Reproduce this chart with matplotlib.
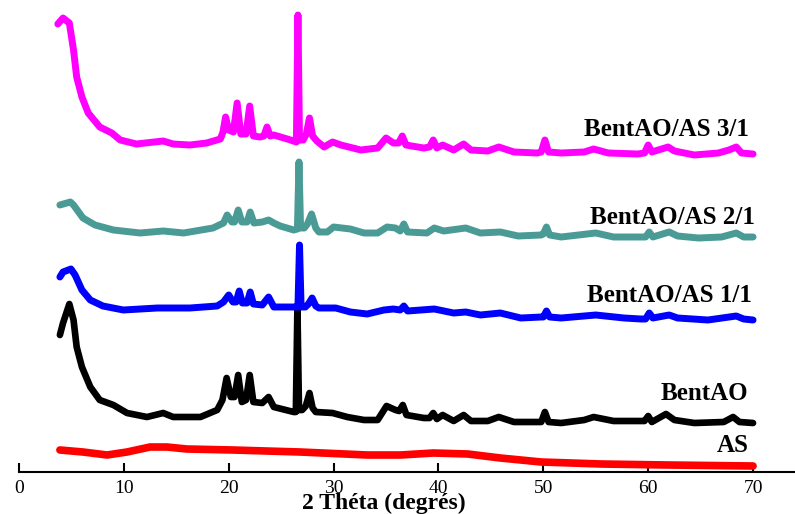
import numpy as np
import matplotlib
matplotlib.use("Agg")
import matplotlib.pyplot as plt

# XRD patterns (2 theta in degrees, intensity in arbitrary units, offsets included)
tt_31 = [3.7, 4.2, 4.8, 5.2, 5.5, 6.0, 6.6, 7.7, 8.85, 9.65, 11.2, 13.75, 14.7, 16.3, 17.9,
         19.2, 19.45, 19.7, 20.0, 20.45, 20.8, 21.15, 21.65, 22.0, 22.35, 23.0, 23.35, 23.65,
         23.95, 24.3, 25.9, 26.45, 26.6, 26.75, 27.1, 27.4, 27.7, 28.0, 28.4, 29.1, 29.9, 30.7,
         32.6, 34.2, 35.0, 35.7, 36.2, 36.55, 36.9, 38.6, 39.15, 39.5, 39.85, 40.4, 41.45,
         42.4, 43.1, 44.7, 45.75, 47.2, 49.4, 49.8, 50.15, 50.5, 51.7, 53.9, 54.8, 56.2, 59.0,
         59.65, 60.0, 60.35, 61.9, 62.5, 64.4, 66.7, 67.7, 68.4, 68.9, 70.0]
i_31 = [448, 454, 449, 422, 395, 375, 359, 345, 339, 332, 328, 331, 328, 327, 329,
        333, 340, 355, 342, 340, 369, 338, 338, 366, 336, 335, 336, 345,
        336, 337, 332, 330, 457, 332, 332, 338, 354, 336, 331, 325, 330, 327,
        322, 324, 334, 329, 329, 336, 327, 324, 325, 332, 324, 327, 322,
        328, 322, 321, 325, 320, 319, 320, 332, 320, 319, 320, 323, 319, 318,
        319, 327, 320, 325, 321, 317, 319, 322, 325, 319, 318]

tt_21 = [3.9, 4.9, 5.2, 6.1, 7.25, 9.0, 11.55, 13.75, 15.7, 18.5, 19.5, 19.85, 20.3, 20.55,
         20.9, 21.25, 21.75, 22.05, 22.4, 23.2, 23.8, 24.3, 24.9, 26.2, 26.55, 26.7, 26.85,
         27.2, 27.5, 27.9, 28.3, 28.6, 29.4, 30.0, 31.6, 32.9, 34.2, 35.1, 35.9, 36.35, 36.7,
         37.05, 38.9, 39.6, 40.5, 42.6, 44.0, 45.9, 47.6, 49.8, 50.0, 50.3, 50.6, 51.7, 55.0,
         56.7, 59.3, 59.75, 60.1, 60.45, 62.0, 62.8, 64.8, 67.0, 68.4, 69.1, 70.0]
i_21 = [267, 270, 267, 254, 247, 242, 239, 241, 239, 244, 249, 257, 250, 250,
        262, 250, 250, 260, 249, 250, 252, 249, 246, 242, 243, 310, 244,
        244, 248, 258, 244, 240, 240, 245, 243, 239, 239, 245, 244, 241, 248,
        240, 239, 244, 241, 244, 239, 240, 236, 237, 238, 245, 237, 235, 239,
        235, 235, 235, 240, 235, 240, 236, 234, 235, 239, 235, 235]

tt_11 = [3.9, 4.2, 4.95, 5.35, 6.0, 6.8, 8.0, 9.95, 13.2, 16.3, 18.9, 19.5, 20.0, 20.4,
         20.7, 21.0, 21.3, 21.75, 22.05, 22.35, 23.2, 23.8, 24.3, 26.2, 26.6, 26.75, 26.9,
         27.3, 27.6, 27.95, 28.3, 28.6, 30.2, 31.6, 33.2, 34.8, 35.7, 36.35, 36.7, 37.05,
         39.6, 41.45, 42.6, 44.0, 45.9, 47.85, 49.8, 50.0, 50.3, 50.6, 51.7, 55.0, 57.7,
         59.3, 59.75, 60.1, 60.45, 62.0, 62.8, 65.7, 68.4, 69.1, 70.0]
i_11 = [195, 200, 203, 197, 182, 172, 166, 162, 164, 164, 166, 170, 177, 170,
        170, 181, 169, 169, 180, 168, 167, 175, 165, 165, 165, 227, 165,
        165, 168, 174, 166, 164, 164, 160, 158, 162, 163, 162, 166, 161,
        163, 159, 160, 157, 159, 154, 155, 155, 161, 155, 154, 157, 154,
        153, 153, 159, 154, 157, 154, 152, 156, 153, 152]

tt_bent = [3.9, 4.2, 4.8, 5.2, 5.5, 6.0, 6.8, 7.7, 9.0, 10.3, 12.2, 13.75, 14.7, 17.3, 18.9,
           19.4, 19.8, 20.2, 20.55, 20.9, 21.25, 21.65, 22.0, 22.35, 23.2, 23.8, 24.3, 26.2,
           26.4, 26.55, 26.7, 27.0, 27.35, 27.7, 28.0, 28.3, 29.9, 31.3, 32.9, 34.2, 35.05,
           35.9, 36.25, 36.6, 36.95, 38.6, 39.15, 39.5, 39.85, 40.4, 41.45, 42.4, 43.1, 44.7,
           45.75, 47.2, 49.4, 49.8, 50.15, 50.5, 51.7, 53.9, 54.8, 56.7, 59.3, 59.65, 60.0,
           60.35, 61.7, 62.5, 64.4, 67.2, 68.1, 68.7, 70.0]
i_bent = [137, 149, 168, 152, 125, 105, 85, 72, 67, 59, 55, 59, 55, 55, 62,
          72, 94, 75, 75, 97, 70, 72, 97, 70, 69, 75, 65, 60,
          60, 165, 62, 62, 66, 79, 64, 60, 59, 55, 52, 52, 66,
          62, 61, 67, 57, 54, 54, 59, 53, 57, 51, 57, 51, 51,
          55, 50, 50, 50, 60, 50, 49, 52, 55, 51, 51, 51, 56,
          50, 58, 52, 49, 50, 55, 50, 49]

tt_as = [3.9, 6.1, 8.4, 10.3, 12.5, 14.1, 16.0, 20.4, 26.8, 33.2, 36.4, 39.5, 42.8, 45.9,
         49.8, 55.5, 61.9, 70.0]
i_as = [22, 20, 17, 20, 25, 25, 23, 22, 20, 17, 17, 19, 18, 14, 10, 8, 7, 6]

labels = ["BentAO/AS 3/1", "BentAO/AS 2/1", "BentAO/AS 1/1", "BentAO", "AS"]
xticks = [0, 10, 20, 30, 40, 50, 60, 70]

serif = "Liberation Serif"

fig = plt.figure(figsize=(7.95, 5.14), dpi=100)
ax = fig.add_axes([19 / 795, 42 / 514, 776 / 795, 472 / 514])

kw = dict(solid_joinstyle="round", solid_capstyle="round")
ax.plot(tt_as, i_as, color="#ff0000", lw=5.5, **kw)
ax.plot(tt_bent, i_bent, color="black", lw=4.8, **kw)
ax.plot(tt_11, i_11, color="#0000ff", lw=5.0, **kw)
ax.plot(tt_21, i_21, color="#4a9b95", lw=5.0, **kw)
ax.plot(tt_31, i_31, color="#ff00ff", lw=5.0, **kw)

# curve labels
txt = dict(ha="right", va="center", fontsize=18, fontweight="bold", family=serif)
ax.text(69.6, 343, labels[0], **txt)
ax.text(70.2, 254, labels[1], **txt)
ax.text(69.9, 176, labels[2], **txt)
ax.text(69.5, 78, labels[3], **txt)
ax.text(69.6, 26, labels[4], **txt)

ax.set_xlim(0, 74)
ax.set_ylim(0, 472)
ax.set_xticks(xticks)
ax.set_yticks([])
for s in ["left", "right", "top"]:
    ax.spines[s].set_visible(False)
ax.spines["bottom"].set_linewidth(1.5)
ax.tick_params(axis="x", direction="in", length=6.5, width=1.5, pad=6, labelsize=14)
for t in ax.get_xticklabels():
    t.set_family(serif)

ax.set_xlabel("2 Théta (degrés)", fontsize=17, fontweight="bold", family=serif, va="baseline")
ax.xaxis.set_label_coords(0.47, -0.079)

fig.savefig("out.png", dpi=100)
